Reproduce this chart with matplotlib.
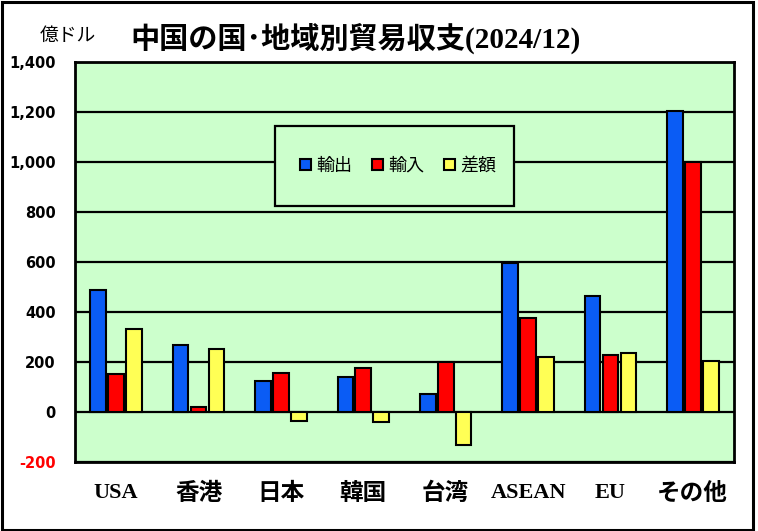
import matplotlib
matplotlib.use("Agg")
import matplotlib.pyplot as plt
from matplotlib.patches import Rectangle, Patch
import numpy as np

categories = ["USA", "香港", "日本", "韓国", "台湾", "ASEAN", "EU", "その他"]
exports = [490, 269, 125, 139, 71, 598, 465, 1205]
imports = [153, 19, 157, 175, 199, 377, 229, 1000]
balance = [333, 253, -37, -40, -130, 221, 237, 205]
series_names = ["輸出", "輸入", "差額"]
yticks = [-200, 0, 200, 400, 600, 800, 1000, 1200, 1400]
ytick_labels = ["-200", "0", "200", "400", "600", "800", "1,000", "1,200", "1,400"]

W, H = 758, 531
fig = plt.figure(figsize=(W / 100, H / 100), dpi=100)
fig.patch.set_facecolor("white")
fig.add_artist(Rectangle((1.5 / W, 1.5 / H), (753 - 1.5) / W, (H - 3) / H,
                         transform=fig.transFigure, fill=False, edgecolor="black", linewidth=2.2))

ax = fig.add_axes([75 / W, (H - 462) / H, 659 / W, 400 / H])
ax.set_facecolor("#CCFFCC")
ax.set_xlim(0, len(categories))
ax.set_ylim(-200, 1400)

cjk = "Noto Sans CJK JP"
x = np.arange(len(categories)) + 0.5
bw = 0.19
step = 0.218
colors = ["#0A5CF5", "#FF0000", "#FFFF55"]
for vals, off, c in zip([exports, imports, balance], [-step, 0, step], colors):
    ax.bar(x + off, vals, width=bw, color=c, edgecolor="black", linewidth=1.5, zorder=3)

ax.set_yticks(yticks)
ax.set_yticklabels(ytick_labels, fontfamily="DejaVu Sans", fontweight="bold", fontsize=10.5)
ax.get_yticklabels()[0].set_color("#FF0000")
ax.tick_params(axis="y", length=0, pad=14)
ax.set_xticks(x)
ax.set_xticklabels(categories, fontfamily=["Liberation Serif", cjk], fontweight="bold", fontsize=16)
for lab in ax.get_xticklabels():
    if not lab.get_text().isascii():
        lab.set_fontsize(17)
ax.tick_params(axis="x", length=0, pad=15)
ax.yaxis.grid(True, color="black", linewidth=1.6, zorder=1)
ax.set_axisbelow(True)
for s in ax.spines.values():
    s.set_linewidth(2.0)
    s.set_color("black")

# legend box
lx0, ly0, lx1, ly1 = 275, 126, 514, 206
ax.add_patch(Rectangle(((lx0 - 75) / 659, (462 - ly1) / 400), (lx1 - lx0) / 659, (ly1 - ly0) / 400,
                       transform=ax.transAxes, facecolor="#CCFFCC", edgecolor="black",
                       linewidth=1.6, zorder=5))
handles = [Patch(facecolor=c, edgecolor="black", linewidth=1.5) for c in colors]
leg = ax.legend(handles, series_names, loc="center",
                bbox_to_anchor=((398 - 75) / 659, (462 - 166) / 400),
                ncol=3, frameon=False, prop={"family": cjk, "size": 13},
                handlelength=0.6, handleheight=0.6, handletextpad=0.3, columnspacing=1.1)
leg.set_zorder(6)

fig.text(40 / W, 1 - 35 / H, "億ドル", fontfamily=cjk, fontsize=13.5, va="center", ha="left")
fig.text(130 / W, 1 - 38 / H, "中国の国･地域別貿易収支(2024/12)",
         fontfamily=["Liberation Serif", cjk], fontweight="bold", fontsize=21,
         va="center", ha="left")

fig.savefig("out.png", dpi=100)
